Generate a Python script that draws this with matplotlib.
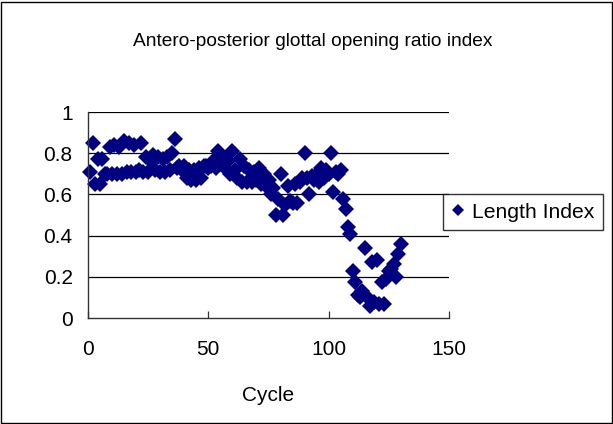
import matplotlib
matplotlib.use("Agg")
import matplotlib.pyplot as plt
from matplotlib.patches import Rectangle

plt.rcParams['font.family'] = ['Liberation Sans', 'DejaVu Sans']

# Length index per glottal cycle
cycles = list(range(1, 131))
length_index = [
    0.71, 0.85, 0.65, 0.77, 0.65, 0.77, 0.70, 0.70, 0.83, 0.70,
    0.84, 0.70, 0.83, 0.70, 0.86, 0.71, 0.85, 0.71, 0.84, 0.71,
    0.72, 0.85, 0.71, 0.78, 0.71, 0.76, 0.79, 0.72, 0.78, 0.71,
    0.77, 0.71, 0.78, 0.72, 0.80, 0.87, 0.73, 0.74, 0.72, 0.74,
    0.68, 0.72, 0.67, 0.72, 0.67, 0.73, 0.68, 0.74, 0.74, 0.73,
    0.74, 0.76, 0.73, 0.81, 0.75, 0.78, 0.73, 0.76, 0.70, 0.81,
    0.72, 0.68, 0.77, 0.66, 0.74, 0.66, 0.72, 0.66, 0.71, 0.67,
    0.73, 0.65, 0.70, 0.64, 0.67, 0.60, 0.63, 0.50, 0.58, 0.70,
    0.50, 0.55, 0.64, 0.57, 0.56, 0.65, 0.56, 0.66, 0.68, 0.80,
    0.68, 0.60, 0.69, 0.67, 0.70, 0.66, 0.73, 0.68, 0.72, 0.70,
    0.80, 0.61, 0.71, 0.70, 0.72, 0.58, 0.53, 0.44, 0.41, 0.23,
    0.175, 0.11, 0.10, 0.13, 0.34, 0.10, 0.06, 0.27, 0.08, 0.28,
    0.07, 0.175, 0.07, 0.19, 0.23, 0.24, 0.26, 0.20, 0.31, 0.36,
]

x_ticks = [0, 50, 100, 150]
y_ticks = [0, 0.2, 0.4, 0.6, 0.8, 1]
y_tick_labels = ['0', '0.2', '0.4', '0.6', '0.8', '1']

fig = plt.figure(figsize=(6.13, 4.24), dpi=100)
ax = fig.add_axes([88 / 613, 1 - 318 / 424, (449 - 88) / 613, (318 - 112) / 424])

ax.plot(cycles, length_index, linestyle='none', marker='D', markersize=8.4,
        color='#000080', markeredgewidth=0, label='Length Index', clip_on=False)

ax.set_xlim(0, 150)
ax.set_ylim(0, 1)
ax.set_xticks(x_ticks)
ax.set_xticklabels([str(t) for t in x_ticks])
ax.set_yticks(y_ticks)
ax.set_yticklabels(y_tick_labels)

for y in y_ticks[1:]:
    ax.axhline(y, color='black', linewidth=0.9, zorder=0)

for side in ('top', 'right'):
    ax.spines[side].set_visible(False)
for side in ('left', 'bottom'):
    ax.spines[side].set_color('#333333')
    ax.spines[side].set_linewidth(1.0)

ax.tick_params(axis='x', direction='in', length=5, width=0.9, pad=16,
               labelsize=15, color='#333333')
ax.tick_params(axis='y', direction='out', length=0, pad=11, labelsize=15)

ax.set_xlabel('Cycle', fontsize=15, labelpad=19)
fig.text(0.51, 1 - 42 / 424, 'Antero-posterior glottal opening ratio index',
         ha='center', va='center', fontsize=13.8)

leg = ax.legend(loc='center left', bbox_to_anchor=(443 / 613, 0.5),
                bbox_transform=fig.transFigure, frameon=True, fancybox=False,
                fontsize=15.2, handlelength=0.55, handletextpad=0.4,
                borderpad=0.42, borderaxespad=0, markerscale=0.72)
leg.get_frame().set_edgecolor('black')
leg.get_frame().set_linewidth(1.0)

fig.patches.append(Rectangle((1 / 613, 1 / 424), 611 / 613, 421 / 424,
                             transform=fig.transFigure, fill=False,
                             edgecolor='black', linewidth=1.0))

fig.savefig('out.png', dpi=100)
